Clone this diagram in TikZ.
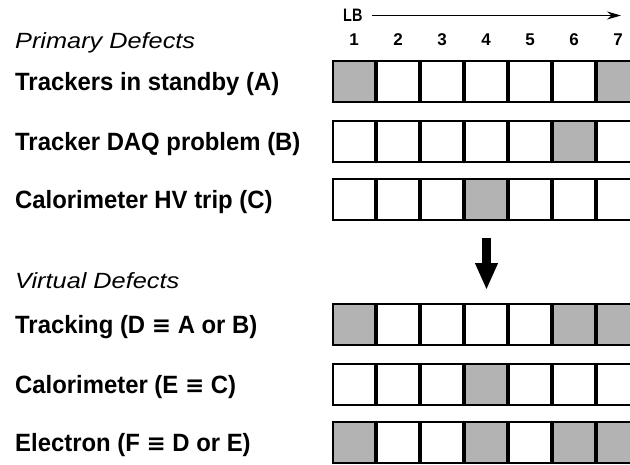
\documentclass[tikz,border=0pt]{standalone}
\usepackage{fontspec}
\setmainfont{Liberation Sans}
\newfontfamily\labfont[FakeStretch=0.955]{Liberation Sans}
\newfontfamily\headfont[FakeStretch=1.15]{Liberation Sans}
\newfontfamily\lbfont[FakeStretch=0.8]{Liberation Sans}
\newfontfamily\eqfont{DejaVu Sans}
\newcommand{\myequiv}{{\eqfont\bfseries\fontsize{23}{26}\selectfont ≡}}
\usetikzlibrary{arrows.meta}
\definecolor{defgray}{RGB}{179,179,179}
\tikzset{
  cell/.style={draw=black, line width=1.6pt, fill=white, minimum width=42pt, minimum height=41.5pt, inner sep=0pt},
  bad/.style={cell, fill=defgray},
  rowlabel/.style={anchor=base west, inner sep=0pt, font=\labfont\bfseries\fontsize{25}{30}\selectfont},
  headlabel/.style={anchor=base west, inner sep=0pt, font=\headfont\itshape\fontsize{22}{26}\selectfont},
  colnum/.style={anchor=base, inner sep=0pt, font=\bfseries\fontsize{17}{20}\selectfont},
}
\begin{document}
\begin{tikzpicture}[x=1pt,y=-1pt]
\clip (0,0) rectangle (630,464);
\fill[white] (0,0) rectangle (630,464);
% header
\node[anchor=base west, inner sep=0pt, font=\lbfont\bfseries\fontsize{18}{20}\selectfont] (lb) at (343,21) {LB};
\coordinate (lbs) at (372,15.5);
\coordinate (lbe) at (621,15.5);
\draw[line width=1.1pt, -{Stealth[length=14pt,width=8pt]}] (lbs) -- (lbe);
\foreach \k in {1,...,7} {
  \node[colnum] (n\k) at ({354+44*(\k-1)},45) {\k};
}
\node[headlabel] (prim) at (15,48) {Primary Defects};
\node[headlabel] (virt) at (15,288) {Virtual Defects};
% row labels
\node[rowlabel] (lA) at (15,90.5) {Trackers in standby (A)};
\node[rowlabel] (lB) at (15,150.5) {Tracker DAQ problem (B)};
\node[rowlabel] (lC) at (15,208.5) {Calorimeter HV trip (C)};
\node[rowlabel] (lD) at (15,333.5) {Tracking (D \myequiv{} A or B)};
\node[rowlabel] (lE) at (15,393.5) {Calorimeter (E \myequiv{} C)};
\node[rowlabel] (lF) at (15,451.5) {Electron (F \myequiv{} D or E)};
% cells
\foreach \r/\y/\bads in {A/81.5/{1,7}, B/141.5/{6}, C/199.5/{4}, D/324.5/{1,6,7}, E/384.5/{4}, F/442.5/{1,4,6,7}} {
  \foreach \k in {1,...,7} {
    \node[cell] (\r\k) at ({354+44*(\k-1)},\y) {};
  }
  \foreach \k in \bads {
    \node[bad] (\r\k b) at ({354+44*(\k-1)},\y) {};
  }
}
% down arrow
\coordinate (ds) at (486.5,238);
\coordinate (de) at (486.5,290);
\draw[line width=9pt, -{Triangle[length=27pt,width=21pt]}] (ds) -- (de);
\end{tikzpicture}
\end{document}
